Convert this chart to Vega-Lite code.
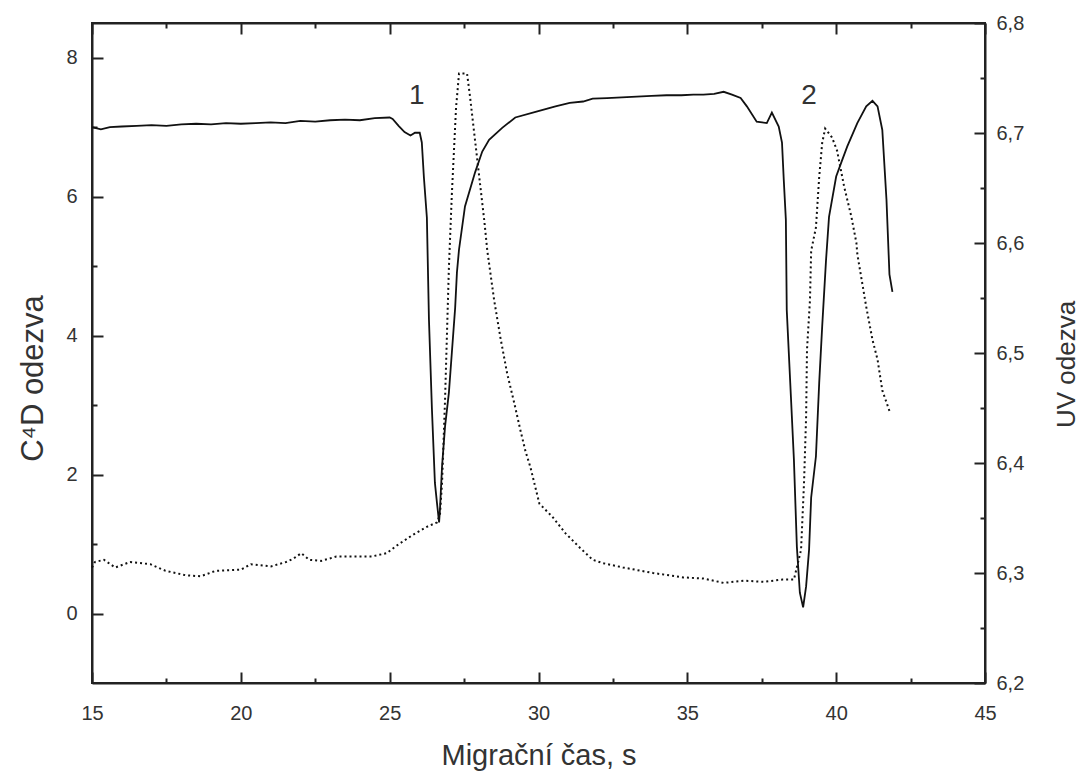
{
  "$schema": "https://vega.github.io/schema/vega-lite/v6.json",
  "width": 893,
  "height": 660,
  "autosize": {"type": "none"},
  "padding": {"left": 92, "top": 23, "right": 97, "bottom": 88},
  "background": "white",
  "config": {
    "view": {"stroke": "#222", "strokeWidth": 2},
    "axis": {
      "domainColor": "#222", "domainWidth": 2, "tickColor": "#222", "tickWidth": 2,
      "grid": false, "labelFont": "Liberation Sans", "labelFontSize": 20, "labelColor": "#333",
      "titleFont": "Liberation Sans", "titleFontWeight": "normal", "titleColor": "#333"
    }
  },
  "datasets": {
    "c4d": [
      {"t": 15.0, "v": 7.0}, {"t": 15.3, "v": 6.97}, {"t": 15.6, "v": 7.0}, {"t": 16.0, "v": 7.01},
      {"t": 16.5, "v": 7.02}, {"t": 17.0, "v": 7.03}, {"t": 17.5, "v": 7.02}, {"t": 18.0, "v": 7.04},
      {"t": 18.5, "v": 7.05}, {"t": 19.0, "v": 7.04}, {"t": 19.5, "v": 7.06}, {"t": 20.0, "v": 7.05},
      {"t": 20.5, "v": 7.06}, {"t": 21.0, "v": 7.07}, {"t": 21.5, "v": 7.06}, {"t": 22.0, "v": 7.09},
      {"t": 22.5, "v": 7.08}, {"t": 23.0, "v": 7.1}, {"t": 23.5, "v": 7.11}, {"t": 24.0, "v": 7.1},
      {"t": 24.5, "v": 7.13}, {"t": 25.0, "v": 7.14}, {"t": 25.1, "v": 7.12}, {"t": 25.3, "v": 7.02},
      {"t": 25.5, "v": 6.93}, {"t": 25.7, "v": 6.88}, {"t": 25.85, "v": 6.92}, {"t": 26.01, "v": 6.92},
      {"t": 26.08, "v": 6.78}, {"t": 26.15, "v": 6.28}, {"t": 26.25, "v": 5.7}, {"t": 26.32, "v": 4.23},
      {"t": 26.42, "v": 2.94}, {"t": 26.52, "v": 1.88}, {"t": 26.59, "v": 1.59}, {"t": 26.66, "v": 1.31},
      {"t": 26.69, "v": 1.5}, {"t": 26.76, "v": 2.12}, {"t": 26.86, "v": 2.69}, {"t": 26.99, "v": 3.18},
      {"t": 27.09, "v": 3.76}, {"t": 27.2, "v": 4.4}, {"t": 27.26, "v": 4.91}, {"t": 27.33, "v": 5.24},
      {"t": 27.53, "v": 5.86}, {"t": 27.87, "v": 6.35}, {"t": 28.11, "v": 6.65}, {"t": 28.34, "v": 6.82},
      {"t": 28.78, "v": 6.99}, {"t": 29.22, "v": 7.14}, {"t": 29.9, "v": 7.22}, {"t": 30.57, "v": 7.3},
      {"t": 31.05, "v": 7.35}, {"t": 31.5, "v": 7.37}, {"t": 31.82, "v": 7.41}, {"t": 32.3, "v": 7.42},
      {"t": 32.8, "v": 7.43}, {"t": 33.3, "v": 7.44}, {"t": 33.8, "v": 7.45}, {"t": 34.3, "v": 7.46},
      {"t": 34.8, "v": 7.46}, {"t": 35.2, "v": 7.47}, {"t": 35.54, "v": 7.47}, {"t": 35.9, "v": 7.48},
      {"t": 36.22, "v": 7.51}, {"t": 36.5, "v": 7.47}, {"t": 36.79, "v": 7.42}, {"t": 37.0, "v": 7.3},
      {"t": 37.33, "v": 7.08}, {"t": 37.67, "v": 7.06}, {"t": 37.84, "v": 7.21}, {"t": 38.07, "v": 7.01},
      {"t": 38.18, "v": 6.78}, {"t": 38.24, "v": 6.24}, {"t": 38.31, "v": 5.67}, {"t": 38.34, "v": 4.37},
      {"t": 38.48, "v": 3.12}, {"t": 38.58, "v": 2.22}, {"t": 38.68, "v": 0.96}, {"t": 38.78, "v": 0.3},
      {"t": 38.89, "v": 0.09}, {"t": 38.99, "v": 0.39}, {"t": 39.09, "v": 0.92}, {"t": 39.16, "v": 1.67},
      {"t": 39.32, "v": 2.26}, {"t": 39.43, "v": 3.32}, {"t": 39.53, "v": 4.13}, {"t": 39.66, "v": 5.09},
      {"t": 39.76, "v": 5.71}, {"t": 40.0, "v": 6.29}, {"t": 40.17, "v": 6.49}, {"t": 40.37, "v": 6.72},
      {"t": 40.71, "v": 7.06}, {"t": 41.01, "v": 7.3}, {"t": 41.22, "v": 7.38}, {"t": 41.39, "v": 7.3},
      {"t": 41.55, "v": 6.96}, {"t": 41.69, "v": 5.96}, {"t": 41.79, "v": 4.88}, {"t": 41.89, "v": 4.63}
    ],
    "uv": [
      {"t": 15.0, "v": 6.305}, {"t": 15.1, "v": 6.31}, {"t": 15.4, "v": 6.312}, {"t": 15.78, "v": 6.305},
      {"t": 16.28, "v": 6.31}, {"t": 16.96, "v": 6.308}, {"t": 17.47, "v": 6.302}, {"t": 18.14, "v": 6.298},
      {"t": 18.65, "v": 6.297}, {"t": 19.16, "v": 6.302}, {"t": 20.0, "v": 6.303}, {"t": 20.34, "v": 6.308},
      {"t": 21.01, "v": 6.306}, {"t": 21.52, "v": 6.31}, {"t": 21.76, "v": 6.313}, {"t": 22.03, "v": 6.318},
      {"t": 22.3, "v": 6.312}, {"t": 22.7, "v": 6.311}, {"t": 23.21, "v": 6.315}, {"t": 24.39, "v": 6.315},
      {"t": 24.9, "v": 6.318}, {"t": 25.24, "v": 6.325}, {"t": 25.74, "v": 6.334}, {"t": 26.25, "v": 6.342},
      {"t": 26.59, "v": 6.346}, {"t": 26.69, "v": 6.353}, {"t": 26.76, "v": 6.382}, {"t": 26.86, "v": 6.457},
      {"t": 26.99, "v": 6.578}, {"t": 27.09, "v": 6.645}, {"t": 27.16, "v": 6.684}, {"t": 27.23, "v": 6.723},
      {"t": 27.33, "v": 6.754}, {"t": 27.6, "v": 6.754}, {"t": 27.7, "v": 6.733}, {"t": 27.84, "v": 6.7},
      {"t": 28.01, "v": 6.66}, {"t": 28.18, "v": 6.62}, {"t": 28.28, "v": 6.593}, {"t": 28.51, "v": 6.548},
      {"t": 28.72, "v": 6.514}, {"t": 28.95, "v": 6.481}, {"t": 29.19, "v": 6.454}, {"t": 29.39, "v": 6.43},
      {"t": 29.56, "v": 6.411}, {"t": 29.73, "v": 6.396}, {"t": 30.03, "v": 6.363}, {"t": 30.47, "v": 6.351},
      {"t": 30.91, "v": 6.336}, {"t": 31.39, "v": 6.323}, {"t": 31.82, "v": 6.312}, {"t": 32.16, "v": 6.309},
      {"t": 32.84, "v": 6.305}, {"t": 33.85, "v": 6.3}, {"t": 34.86, "v": 6.296}, {"t": 35.54, "v": 6.295},
      {"t": 36.22, "v": 6.291}, {"t": 36.9, "v": 6.293}, {"t": 37.57, "v": 6.292}, {"t": 38.2, "v": 6.294},
      {"t": 38.58, "v": 6.294}, {"t": 38.82, "v": 6.321}, {"t": 38.92, "v": 6.382}, {"t": 38.99, "v": 6.442},
      {"t": 39.02, "v": 6.503}, {"t": 39.12, "v": 6.548}, {"t": 39.16, "v": 6.593}, {"t": 39.32, "v": 6.614},
      {"t": 39.43, "v": 6.66}, {"t": 39.53, "v": 6.691}, {"t": 39.63, "v": 6.704}, {"t": 39.86, "v": 6.696},
      {"t": 40.03, "v": 6.684}, {"t": 40.27, "v": 6.651}, {"t": 40.51, "v": 6.624}, {"t": 40.68, "v": 6.6},
      {"t": 40.71, "v": 6.59}, {"t": 41.01, "v": 6.542}, {"t": 41.22, "v": 6.512}, {"t": 41.39, "v": 6.494},
      {"t": 41.55, "v": 6.466}, {"t": 41.82, "v": 6.445}
    ],
    "labels": [
      {"t": 25.91, "v": 7.45, "label": "1"},
      {"t": 39.09, "v": 7.45, "label": "2"}
    ]
  },
  "layer": [
    {
      "data": {"name": "c4d"},
      "mark": {"type": "line", "color": "#111", "strokeWidth": 1.8, "interpolate": "linear"},
      "encoding": {
        "x": {
          "field": "t", "type": "quantitative",
          "scale": {"domain": [15, 45], "nice": false, "zero": false},
          "axis": {
            "orient": "bottom",
            "values": [15, 17.5, 20, 22.5, 25, 27.5, 30, 32.5, 35, 37.5, 40, 42.5, 45],
            "labelExpr": "datum.value % 5 === 0 ? datum.label : ''",
            "tickSize": {"condition": {"test": "datum.value % 5 !== 0", "value": -5}, "value": -11},
            "labelPadding": 31, "labelFlush": false, "labelFontSize": 20, "labelOverlap": false,
            "title": "Migrační čas, s", "titleFontSize": 29, "titleBaseline": "alphabetic", "titleY": 81
          }
        },
        "y": {
          "field": "v", "type": "quantitative",
          "scale": {"domain": [-1, 8.5], "nice": false, "zero": false},
          "axis": {
            "orient": "left",
            "values": [0, 1, 2, 3, 4, 5, 6, 7, 8],
            "labelExpr": "datum.value % 2 === 0 ? datum.label : ''",
            "tickSize": {"condition": {"test": "datum.value % 2 !== 0", "value": -5}, "value": -11},
            "labelPadding": 26, "labelFontSize": 20, "labelOverlap": false,
            "title": "C⁴D odezva", "titleFontSize": 31, "titleBaseline": "alphabetic",
            "titleX": -50, "titleY": 355, "titleAngle": 270
          }
        }
      }
    },
    {
      "data": {"name": "uv"},
      "mark": {"type": "line", "color": "#111", "strokeWidth": 2, "strokeDash": [2, 3]},
      "encoding": {
        "x": {
          "field": "t", "type": "quantitative",
          "scale": {"domain": [15, 45], "nice": false, "zero": false},
          "axis": {
            "orient": "top",
            "values": [15, 17.5, 20, 22.5, 25, 27.5, 30, 32.5, 35, 37.5, 40, 42.5, 45],
            "labels": false,
            "tickSize": {"condition": {"test": "datum.value % 5 !== 0", "value": -5}, "value": -11},
            "title": null
          }
        },
        "y": {
          "field": "v", "type": "quantitative",
          "scale": {"domain": [6.2, 6.8], "nice": false, "zero": false},
          "axis": {
            "orient": "right",
            "values": [6.2, 6.25, 6.3, 6.35, 6.4, 6.45, 6.5, 6.55, 6.6, 6.65, 6.7, 6.75, 6.8],
            "labelExpr": "abs(datum.value * 10 - round(datum.value * 10)) < 0.01 ? replace(format(datum.value, '.1f'), '.', ',') : ''",
            "tickSize": {"condition": {"test": "abs(datum.value * 10 - round(datum.value * 10)) > 0.01", "value": -5}, "value": -11},
            "labelPadding": 22, "labelFontSize": 20, "labelOverlap": false, "labelFlush": false,
            "title": "UV odezva", "titleFontSize": 26, "titleBaseline": "alphabetic",
            "titleX": 89, "titleY": 341, "titleAngle": 270
          }
        }
      }
    },
    {
      "data": {"name": "labels"},
      "mark": {"type": "text", "font": "Liberation Sans", "fontSize": 28, "color": "#333", "baseline": "middle", "align": "center"},
      "encoding": {
        "x": {"field": "t", "type": "quantitative", "scale": {"domain": [15, 45], "nice": false, "zero": false}, "axis": null},
        "y": {"field": "v", "type": "quantitative", "scale": {"domain": [-1, 8.5], "nice": false, "zero": false}, "axis": null},
        "text": {"field": "label"}
      }
    }
  ],
  "resolve": {"scale": {"y": "independent"}, "axis": {"x": "independent", "y": "independent"}}
}
